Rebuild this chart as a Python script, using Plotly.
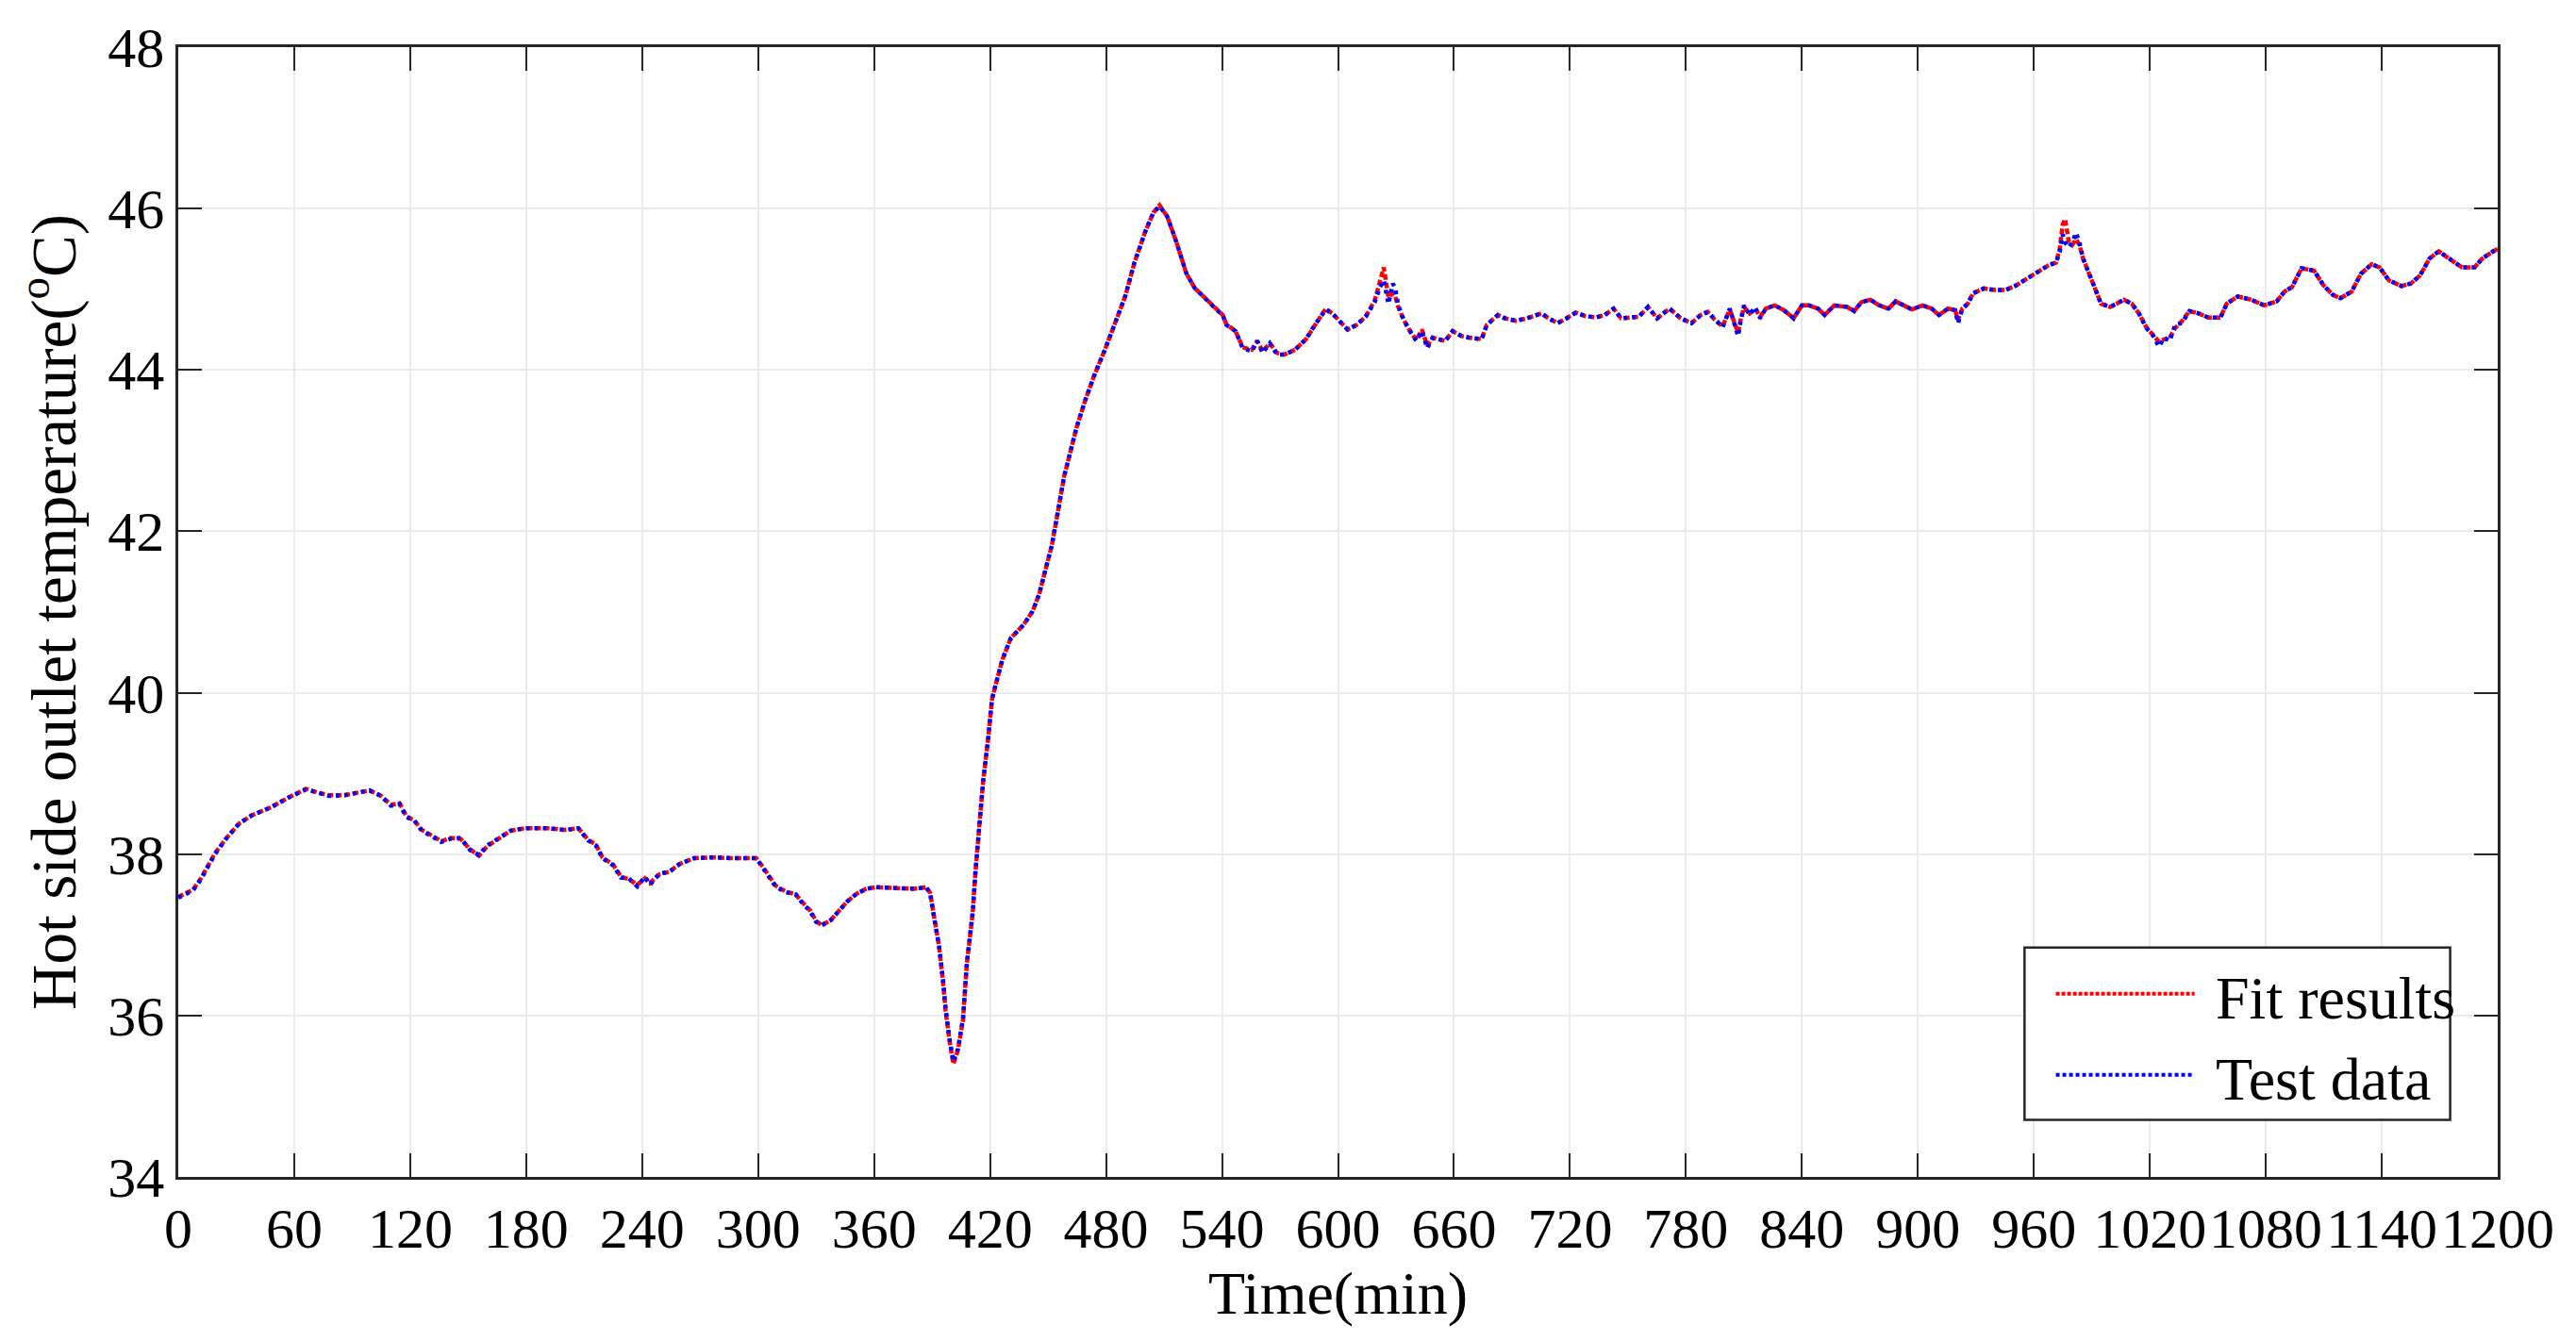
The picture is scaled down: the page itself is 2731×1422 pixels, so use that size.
import plotly.graph_objects as go

# ---------------- data ----------------
time_min = [
    0, 4, 7.6, 11.5, 15, 19, 25, 31.5, 38, 48,
    57, 66, 72.5, 78, 86, 93.5, 99, 105, 110, 114.5,
    118, 122, 126, 132, 136, 141, 146, 151, 155.5, 160,
    166, 172, 179, 191, 200, 207, 212, 216, 219.5, 225,
    229, 233, 237.5, 241.5, 244, 249, 254, 259.5, 267, 277,
    286, 299, 301.6, 305, 309, 314, 319.5, 323, 327, 330,
    333, 337.5, 342, 346, 351, 356, 361, 371, 380.6, 387,
    389, 391, 393.6, 395.6, 397, 399, 401, 403.4, 406, 408,
    411, 412.5, 414, 416.4, 419, 421, 424, 426.5, 430.8, 437.3,
    442, 445.4, 448.6, 451.9, 455, 458.3, 461.6, 464.8, 468.9, 473.7,
    479.4, 485, 489.9, 494.8, 500.4, 504.5, 507.7, 511.7, 516.6, 521.5,
    526, 530, 534, 537, 540.4, 542.2, 547, 550.7, 555.4, 558.2,
    561, 564.7, 568.5, 572.2, 577.8, 583.4, 588.1, 591.9, 593.7, 597.5,
    601.2, 605, 609.7, 614.3, 619, 621.8, 623.7, 626.1, 628.4, 629.5,
    631.2, 634, 637.8, 640.6, 643.4, 646.2, 649, 651.8, 655.5, 659.3,
    664, 667.7, 674.3, 677, 682.7, 686.4, 692, 697.7, 705.2, 709,
    713.6, 718.3, 723, 727.6, 733.3, 738, 742.6, 746.4, 752, 755.7,
    760.4, 765.1, 771.6, 777.3, 782.9, 787.6, 791.3, 795, 799, 802.7,
    805.5, 807, 808.3, 810.1, 813, 815.7, 818.5, 821.3, 826, 830.7,
    835.7, 840, 843.7, 848.4, 851.8, 856.8, 863.3, 867.1, 870.8, 875.4,
    880.1, 884.8, 888.5, 893.2, 896.9, 902.5, 907.2, 910.9, 915.6, 919.3,
    920.8, 923, 925.8, 928.6, 934.2, 939.8, 945.4, 951, 956.6, 962.2,
    967.8, 971.5, 973.4, 974.9, 976.2, 978, 979.9, 981.8, 983.6, 985.5,
    988.3, 992, 994.8, 999.5, 1003.2, 1006.6, 1010.7, 1014.4, 1018.2, 1021.9,
    1024.7, 1027.5, 1030.3, 1033.1, 1036.5, 1040.5, 1045.3, 1050.2, 1056.6, 1059.8,
    1065.5, 1072.5, 1079.2, 1085.6, 1089.7, 1093.7, 1098.5, 1105, 1109.8, 1114.7,
    1118.7, 1124.4, 1129.2, 1134.8, 1138.9, 1143.7, 1150.2, 1155, 1159.8, 1164.7,
    1169.5, 1176, 1181.6, 1188, 1192, 1197.7, 1200,
]

test_data = [
    37.46, 37.50, 37.55, 37.68, 37.84, 38.00, 38.20, 38.38, 38.48, 38.58,
    38.70, 38.80, 38.76, 38.72, 38.73, 38.76, 38.79, 38.72, 38.60, 38.62,
    38.46, 38.42, 38.29, 38.21, 38.15, 38.19, 38.20, 38.05, 37.99, 38.11,
    38.20, 38.29, 38.32, 38.32, 38.30, 38.32, 38.17, 38.11, 37.95, 37.86,
    37.71, 37.70, 37.60, 37.72, 37.62, 37.76, 37.78, 37.88, 37.95, 37.96,
    37.95, 37.95, 37.86, 37.73, 37.60, 37.53, 37.50, 37.39, 37.29, 37.16,
    37.12, 37.18, 37.31, 37.41, 37.51, 37.57, 37.59, 37.58, 37.57, 37.59,
    37.51, 37.22, 36.86, 36.45, 36.08, 35.71, 35.43, 35.59, 35.96, 36.65,
    37.27, 37.80, 38.29, 38.90, 39.43, 39.92, 40.20, 40.42, 40.68, 40.84,
    41.01, 41.22, 41.52, 41.82, 42.23, 42.68, 42.99, 43.29, 43.60, 43.92,
    44.25, 44.60, 44.91, 45.34, 45.72, 45.95, 46.03, 45.90, 45.57, 45.20,
    45.01, 44.92, 44.82, 44.75, 44.68, 44.56, 44.48, 44.27, 44.23, 44.36,
    44.21, 44.33, 44.19, 44.19, 44.25, 44.38, 44.56, 44.70, 44.75, 44.69,
    44.60, 44.50, 44.56, 44.66, 44.84, 45.03, 45.11, 44.82, 45.07, 45.02,
    44.80, 44.62, 44.46, 44.36, 44.48, 44.27, 44.40, 44.38, 44.36, 44.48,
    44.42, 44.40, 44.38, 44.56, 44.68, 44.64, 44.61, 44.64, 44.70, 44.64,
    44.58, 44.64, 44.71, 44.67, 44.65, 44.68, 44.76, 44.64, 44.66, 44.66,
    44.78, 44.64, 44.76, 44.64, 44.58, 44.68, 44.72, 44.62, 44.53, 44.76,
    44.56, 44.42, 44.60, 44.80, 44.68, 44.78, 44.64, 44.76, 44.80, 44.74,
    44.64, 44.80, 44.80, 44.76, 44.68, 44.80, 44.78, 44.73, 44.84, 44.87,
    44.80, 44.76, 44.85, 44.80, 44.75, 44.80, 44.76, 44.68, 44.76, 44.74,
    44.58, 44.76, 44.82, 44.95, 45.01, 44.99, 44.99, 45.05, 45.13, 45.22,
    45.30, 45.33, 45.46, 45.68, 45.58, 45.52, 45.58, 45.70, 45.58, 45.38,
    45.21, 44.97, 44.82, 44.78, 44.82, 44.87, 44.82, 44.70, 44.52, 44.42,
    44.29, 44.40, 44.36, 44.56, 44.58, 44.73, 44.70, 44.65, 44.65, 44.82,
    44.91, 44.87, 44.80, 44.85, 44.97, 45.03, 45.26, 45.23, 45.05, 44.93,
    44.89, 44.97, 45.19, 45.31, 45.27, 45.11, 45.04, 45.07, 45.17, 45.38,
    45.47, 45.36, 45.27, 45.27, 45.38, 45.47, 45.50,
]

fit_results = [
    37.47, 37.51, 37.56, 37.69, 37.84, 38.01, 38.20, 38.38, 38.48, 38.58,
    38.70, 38.81, 38.76, 38.73, 38.73, 38.76, 38.79, 38.72, 38.61, 38.63,
    38.47, 38.42, 38.30, 38.22, 38.16, 38.20, 38.19, 38.06, 37.98, 38.10,
    38.20, 38.29, 38.32, 38.32, 38.30, 38.32, 38.18, 38.12, 37.96, 37.87,
    37.72, 37.69, 37.62, 37.70, 37.64, 37.75, 37.78, 37.88, 37.95, 37.96,
    37.95, 37.95, 37.87, 37.74, 37.61, 37.54, 37.50, 37.40, 37.30, 37.17,
    37.12, 37.18, 37.31, 37.41, 37.51, 37.57, 37.59, 37.58, 37.57, 37.59,
    37.52, 37.23, 36.86, 36.44, 36.06, 35.69, 35.40, 35.57, 35.95, 36.65,
    37.27, 37.80, 38.29, 38.90, 39.43, 39.92, 40.20, 40.42, 40.68, 40.84,
    41.01, 41.22, 41.52, 41.82, 42.23, 42.68, 42.99, 43.29, 43.60, 43.92,
    44.25, 44.60, 44.91, 45.34, 45.72, 45.95, 46.04, 45.90, 45.57, 45.20,
    45.01, 44.92, 44.83, 44.75, 44.68, 44.57, 44.48, 44.28, 44.25, 44.36,
    44.23, 44.33, 44.21, 44.19, 44.25, 44.38, 44.56, 44.70, 44.76, 44.69,
    44.60, 44.50, 44.56, 44.66, 44.86, 45.10, 45.27, 44.90, 44.95, 44.92,
    44.78, 44.62, 44.46, 44.37, 44.50, 44.30, 44.40, 44.38, 44.36, 44.48,
    44.42, 44.40, 44.38, 44.56, 44.68, 44.64, 44.61, 44.64, 44.70, 44.64,
    44.58, 44.64, 44.71, 44.67, 44.65, 44.68, 44.76, 44.64, 44.66, 44.66,
    44.78, 44.64, 44.76, 44.64, 44.58, 44.68, 44.72, 44.62, 44.54, 44.75,
    44.56, 44.46, 44.62, 44.78, 44.70, 44.76, 44.66, 44.76, 44.80, 44.74,
    44.64, 44.80, 44.80, 44.76, 44.68, 44.80, 44.78, 44.73, 44.84, 44.87,
    44.80, 44.76, 44.85, 44.80, 44.75, 44.80, 44.76, 44.68, 44.76, 44.74,
    44.62, 44.76, 44.82, 44.95, 45.01, 44.99, 44.99, 45.05, 45.13, 45.22,
    45.30, 45.33, 45.50, 45.80, 45.87, 45.60, 45.55, 45.62, 45.55, 45.38,
    45.21, 44.97, 44.82, 44.78, 44.82, 44.87, 44.82, 44.70, 44.53, 44.43,
    44.35, 44.38, 44.40, 44.52, 44.60, 44.73, 44.70, 44.65, 44.65, 44.82,
    44.91, 44.87, 44.80, 44.85, 44.97, 45.03, 45.26, 45.23, 45.05, 44.93,
    44.89, 44.97, 45.19, 45.31, 45.27, 45.11, 45.04, 45.07, 45.17, 45.38,
    45.47, 45.36, 45.27, 45.27, 45.38, 45.47, 45.50,
]

x_ticks = list(range(0, 1201, 60))
y_ticks = list(range(34, 49, 2))
series_names = ["Fit results", "Test data"]
series_colors = ["#ff0000", "#0000ff"]

assert len(time_min) == len(test_data) == len(fit_results)

FONT = "Liberation Serif"
AXIS_COLOR = "#262626"
GRID_COLOR = "#ebebeb"

fig = go.Figure()
fig.add_trace(go.Scatter(
    x=time_min, y=fit_results, mode="lines", name=series_names[0],
    line=dict(color=series_colors[0], width=4.5, dash="6px,3px"),
    showlegend=False,
))
fig.add_trace(go.Scatter(
    x=time_min, y=test_data, mode="lines", name=series_names[1],
    line=dict(color=series_colors[1], width=4.5, dash="4px,5px"),
    showlegend=False,
))

axis_common = dict(
    showline=True, linecolor=AXIS_COLOR, linewidth=2.5, mirror="ticks",
    ticks="inside", ticklen=25, tickwidth=2, tickcolor=AXIS_COLOR,
    showgrid=True, gridcolor=GRID_COLOR, gridwidth=2, zeroline=False,
    tickfont=dict(family=FONT, size=60, color="black"),
)

fig.update_xaxes(
    range=[0, 1200], tickmode="array", tickvals=x_ticks,
    ticktext=[str(v) for v in x_ticks],
    title=dict(text="Time(min)", font=dict(family=FONT, size=64, color="black"), standoff=4),
    **axis_common,
)
fig.update_yaxes(
    range=[34, 48], tickmode="array", tickvals=y_ticks,
    ticktext=[str(v) for v in y_ticks],
    title=dict(text="Hot side outlet temperature(<sup>o</sup>C)",
               font=dict(family=FONT, size=67, color="black"), standoff=12),
    **axis_common,
)

# custom legend box (matches the long line samples of the original)
shapes = [
    dict(type="rect", xref="paper", yref="paper", x0=0.796, x1=0.9795, y0=0.0505, y1=0.2030,
         line=dict(color=AXIS_COLOR, width=2.5), fillcolor="white", layer="above"),
    dict(type="line", xref="paper", yref="paper", x0=0.8095, x1=0.8693, y0=0.1621, y1=0.1621,
         line=dict(color=series_colors[0], width=4, dash="4px,2px"), layer="above"),
    dict(type="line", xref="paper", yref="paper", x0=0.8095, x1=0.8693, y0=0.0903, y1=0.0903,
         line=dict(color=series_colors[1], width=4, dash="4px,3px"), layer="above"),
]
annotations = [
    dict(text=series_names[0], xref="paper", yref="paper", x=0.8775, y=0.1580,
         xanchor="left", yanchor="middle", showarrow=False,
         font=dict(family=FONT, size=64, color="black")),
    dict(text=series_names[1], xref="paper", yref="paper", x=0.8775, y=0.0865,
         xanchor="left", yanchor="middle", showarrow=False,
         font=dict(family=FONT, size=64, color="black")),
]

fig.update_layout(
    width=2731, height=1422,
    margin=dict(l=181, r=91, t=42, b=182, autoexpand=False),
    paper_bgcolor="white", plot_bgcolor="white",
    shapes=shapes, annotations=annotations,
    showlegend=False,
)

fig.write_html("out.html")
